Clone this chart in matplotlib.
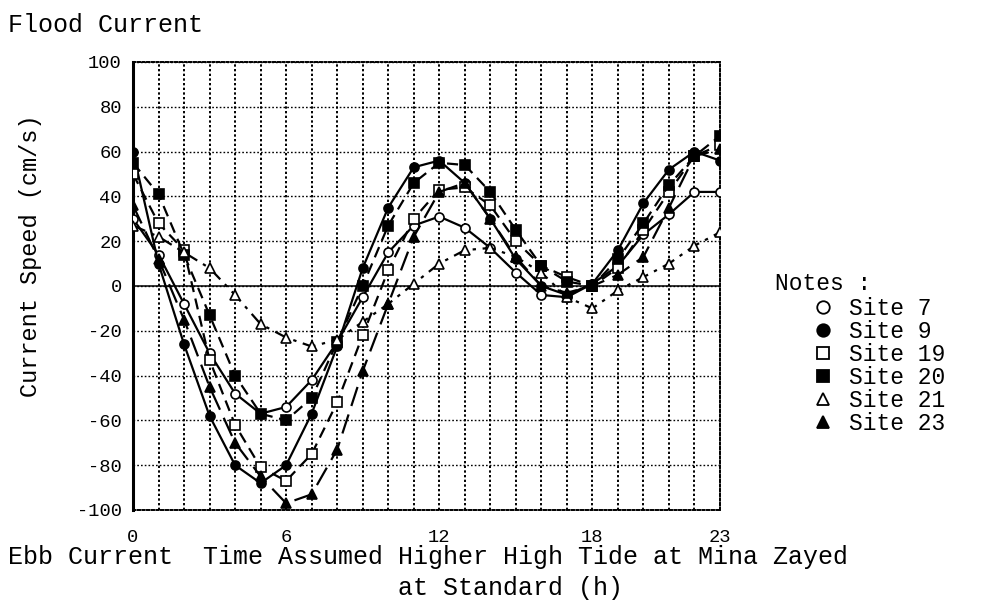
import matplotlib
matplotlib.use("Agg")
import matplotlib.pyplot as plt
from matplotlib.lines import Line2D

plt.rcParams['font.family'] = ['Liberation Mono', 'DejaVu Sans Mono']

hours = list(range(24))
site7 = [30, 14, -8, -30, -48, -57, -54, -42, -25, -5, 15, 27, 31, 26, 17, 6, -4, -5, 1, 9, 23, 32, 42, 42]
site9 = [60, 10, -26, -58, -80, -88, -80, -57, -27, 8, 35, 53, 56, 46, 30, 12, 0, -4, 1, 16, 37, 52, 60, 56]
site19 = [50, 28, 16, -33, -62, -81, -87, -75, -52, -22, 7, 30, 43, 44, 36, 20, 9, 4, 0, 8, 25, 42, 58, 63]
site20 = [55, 41, 14, -13, -40, -57, -60, -50, -25, 0, 27, 46, 55, 54, 42, 25, 9, 2, 0, 12, 28, 45, 58, 67]
site21 = [27, 22, 15, 8, -4, -17, -23, -27, -24, -16, -8, 1, 10, 16, 17, 13, 6, -5, -10, -2, 4, 10, 18, 24]
site23 = [36, 12, -15, -45, -70, -85, -97, -93, -73, -38, -8, 22, 42, 46, 30, 13, 0, -3, 0, 5, 13, 35, 58, 61]

series_labels = ["Site 7", "Site 9", "Site 19", "Site 20", "Site 21", "Site 23"]
series_values = [site7, site9, site19, site20, site21, site23]
styles = [
    dict(ls='-', marker='o', mfc='white'),
    dict(ls='-', marker='o', mfc='black'),
    dict(ls=(0, (5, 3)), marker='s', mfc='white'),
    dict(ls=(0, (5, 3)), marker='s', mfc='black'),
    dict(ls=(0, (6, 3, 1.5, 3)), marker='^', mfc='white'),
    dict(ls=(0, (9, 4)), marker='^', mfc='black'),
]

yticks = [100, 80, 60, 40, 20, 0, -20, -40, -60, -80, -100]
xtick_pos = [0, 6, 12, 18, 23]

fig = plt.figure(figsize=(9.92, 6.10), dpi=100)
ax = fig.add_axes([133/992, 1 - 510/610, (720 - 133)/992, (510 - 62)/610])

# grid
for h in hours:
    ax.axvline(h, color='black', lw=1.4, ls=(0, (1.2, 1.2)), zorder=1)
for v in yticks:
    ax.axhline(v, color='black', lw=1.0, ls=(0, (1.2, 1.5)), zorder=1)
ax.axhline(0, color='black', lw=1.1, ls='-', zorder=1)

for vals, st in zip(series_values, styles):
    ax.plot(hours, vals, color='black', lw=1.6, ls=st['ls'], marker=st['marker'],
            mfc=st['mfc'], mec='black', ms=6.5, mew=1.2, zorder=3)

ax.set_xlim(0, 23)
ax.set_ylim(-100, 100)
ax.set_yticks(yticks)
ax.set_yticklabels([str(v) for v in yticks], fontsize=13.5)
ax.set_xticks(xtick_pos)
ax.set_xticklabels([str(v) for v in xtick_pos], fontsize=13.5)
ax.tick_params(length=0, pad=8)
ax.tick_params(axis='x', pad=14)

for side in ['top', 'right', 'bottom']:
    ax.spines[side].set_linestyle((0, (1.2, 1.2)))
    ax.spines[side].set_linewidth(1.4)
ax.spines['left'].set_linewidth(2.2)

ax.set_ylabel("Current Speed (cm/s)", fontsize=17)
ax.yaxis.set_label_coords(-(133 - 42)/587, (510 - 256)/448)

fig.text(8/992, 1 - 25/610, "Flood Current", fontsize=18, va='center', ha='left')
fig.text(8/992, 1 - 557/610, "Ebb Current  Time Assumed Higher High Tide at Mina Zayed",
         fontsize=18, va='center', ha='left')
fig.text(398/992, 1 - 588/610, "at Standard (h)", fontsize=18, va='center', ha='left')

# notes legend
fig.text(775/992, 1 - 284/610, "Notes :", fontsize=16.5, va='center', ha='left')
handles = [Line2D([], [], ls='none', marker=st['marker'], mfc=st['mfc'], mec='black',
                  color='black', ms=9, mew=1.3) for st in styles]
leg = fig.legend(handles, series_labels, loc='upper left', bbox_to_anchor=(812/992, 1 - 297/610),
                 frameon=False, fontsize=16.5, handlelength=1.0, handletextpad=0.6,
                 labelspacing=0.0, borderaxespad=0, borderpad=0)

fig.savefig("out.png", dpi=100)
